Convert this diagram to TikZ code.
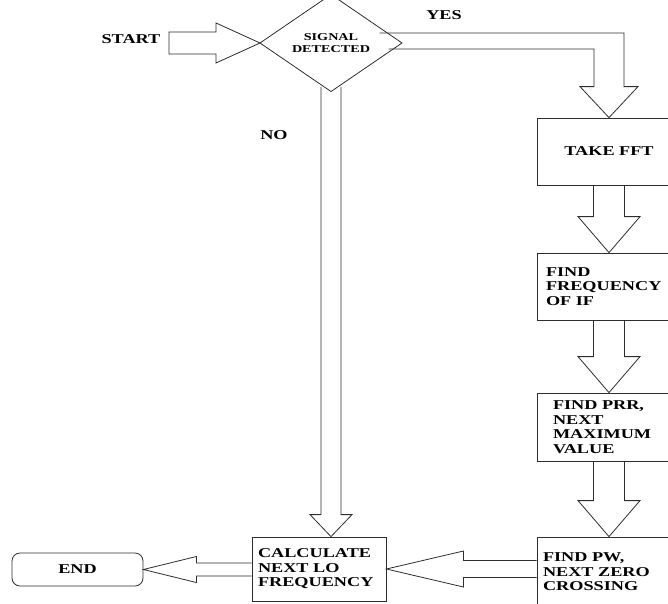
\documentclass[tikz,border=0pt]{standalone}
\usepackage{fontspec}
\setmainfont{Liberation Serif}[FakeStretch=1.35]
\usepackage{tikz}
\usetikzlibrary{shapes.geometric, calc}
\definecolor{chartline}{RGB}{45, 45, 45}
\tikzset{
    stepbox/.style={draw=chartline, line width=0.8pt, rectangle, minimum height=67pt,
        inner xsep=6pt, inner ysep=0pt, align=left,
        font=\bfseries\fontsize{13.5}{14.5}\selectfont},
    decision/.style={draw=chartline, line width=0.8pt, diamond, minimum width=142pt,
        minimum height=63pt, inner sep=0pt, outer sep=0pt, align=center,
        font=\bfseries\fontsize{10.5}{12}\selectfont},
    flowlabel/.style={font=\bfseries\fontsize{13.5}{14.5}\selectfont},
    blockarrow/.style={draw=chartline, line width=0.8pt, line join=miter}
}

\begin{document}
\begin{tikzpicture}[x=1pt, y=-1pt]
    \useasboundingbox (0,0) rectangle (668,603);

    \node[decision] (signal) at (331,43) {SIGNAL\\DETECTED};
    \node[flowlabel] (start) at (131,39) {START};
    \node[flowlabel] (yes) at (444,15) {YES};
    \node[flowlabel] (no) at (274,135) {NO};

    \node[stepbox, text width=132pt, align=center] (fft) at (609,151.5) {TAKE FFT};
    \node[stepbox, inner xsep=9pt, text width=126pt] (freq) at (609,286.5) {FIND\\FREQUENCY\\OF IF};
    \node[stepbox, minimum height=68pt, inner xsep=16pt, text width=112pt] (prr) at (609,427)
        {FIND PRR,\\NEXT\\MAXIMUM\\VALUE};
    \node[stepbox, minimum height=70pt, text width=132pt] (pw) at (609,572)
        {FIND PW,\\NEXT ZERO\\CROSSING};
    \node[stepbox, minimum height=64pt, text width=122pt] (calc) at (319,569)
        {CALCULATE\\NEXT LO\\FREQUENCY};
    \node[stepbox, rounded corners=8pt, minimum width=131pt, minimum height=33pt,
          text width=, align=center] (finish) at (77.5,569.5) {END};

    % start -> decision
    \draw[blockarrow] ($(start.east |- signal.west)+(5,-11)$) -- ($(signal.west)+(-44,-11)$)
        -- ($(signal.west)+(-44,-20)$) -- (signal.west) -- ($(signal.west)+(-44,20)$)
        -- ($(signal.west)+(-44,11)$) -- ($(start.east |- signal.west)+(5,11)$) -- cycle;

    % yes branch
    \draw[blockarrow] ($(signal.east)+(-22.5,-10)$) -| ($(fft.north)+(15,-31)$)
        -- ($(fft.north)+(29,-31)$) -- (fft.north) -- ($(fft.north)+(-29,-31)$)
        -- ($(fft.north)+(-15,-31)$) |- ($(signal.east)+(-13.5,6)$);

    % no branch
    \coordinate (notip) at (signal.south |- calc.north);
    \draw[blockarrow] ($(signal.south)+(-10,-4.4)$) -- ($(notip)+(-10,-22)$)
        -- ($(notip)+(-21,-22)$) -- (notip) -- ($(notip)+(21,-22)$)
        -- ($(notip)+(10,-22)$) -- ($(signal.south)+(10,-4.4)$);

    \foreach \a/\b in {fft/freq, freq/prr, prr/pw}
        \draw[blockarrow] ($(\a.south)+(-15.5,0)$) -- ($(\b.north)+(-15.5,-36)$)
            -- ($(\b.north)+(-31,-36)$) -- (\b.north) -- ($(\b.north)+(31,-36)$)
            -- ($(\b.north)+(15.5,-36)$) -- ($(\a.south)+(15.5,0)$);

    % back to the left
    \draw[blockarrow] ($(pw.west |- calc.east)+(0,-8.5)$) -- ($(calc.east)+(77,-8.5)$)
        -- ($(calc.east)+(77,-18)$) -- (calc.east) -- ($(calc.east)+(77,18)$)
        -- ($(calc.east)+(77,8.5)$) -- ($(pw.west |- calc.east)+(0,8.5)$);
    \draw[blockarrow] ($(calc.west |- finish.east)+(0,-6.5)$) -- ($(finish.east)+(53,-6.5)$)
        -- ($(finish.east)+(53,-13)$) -- (finish.east) -- ($(finish.east)+(53,13)$)
        -- ($(finish.east)+(53,6.5)$) -- ($(calc.west |- finish.east)+(0,6.5)$);
\end{tikzpicture}
\end{document}
